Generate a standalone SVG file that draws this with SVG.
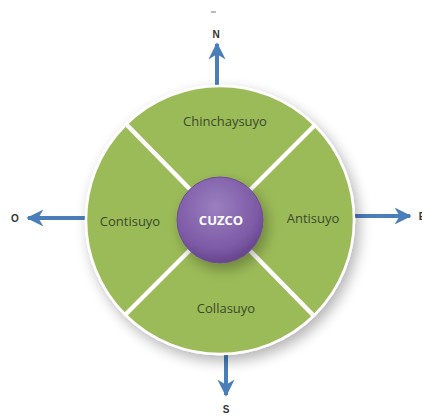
<svg xmlns="http://www.w3.org/2000/svg" width="422" height="418" viewBox="0 0 422 418">
  <defs>
    <filter id="shadow" x="-20%" y="-20%" width="150%" height="150%">
      <feGaussianBlur in="SourceAlpha" stdDeviation="7"/>
      <feOffset dx="4" dy="6" result="b"/>
      <feComponentTransfer><feFuncA type="linear" slope="0.3"/></feComponentTransfer>
      <feMerge><feMergeNode/><feMergeNode in="SourceGraphic"/></feMerge>
    </filter>
    <radialGradient id="purple" cx="0.45" cy="0.35" r="0.7">
      <stop offset="0" stop-color="#9a7fbf"/>
      <stop offset="0.7" stop-color="#7d5aa6"/>
      <stop offset="1" stop-color="#5f3f85"/>
    </radialGradient>
    <marker id="head" viewBox="0 0 10 10" refX="9" refY="5" markerWidth="4.3" markerHeight="4.3" markerUnits="strokeWidth" orient="auto">
      <path d="M0,0 L10,5 L0,10 L3,5 Z" fill="#4a7ebb"/>
    </marker>
    <style>
      .lbl { font-family: "Open Sans", "Noto Sans", sans-serif; font-size: 13px; fill: #3b4a2c; text-anchor: middle; }
      .dir { font-family: "Liberation Sans", sans-serif; font-size: 10px; font-weight: bold; fill: #333; text-anchor: middle; }
      .arrow { stroke: #4a7ebb; stroke-width: 4; fill: none; marker-end: url(#head); }
      .divider { stroke: #ffffff; stroke-width: 4.5; }
    </style>
  </defs>

  <g id="connectors">
    <line class="arrow" x1="217" y1="88" x2="217" y2="44"/>
    <line class="arrow" x1="87" y1="218" x2="28" y2="218"/>
    <line class="arrow" x1="353" y1="216" x2="410" y2="216"/>
    <line class="arrow" x1="226" y1="352" x2="226" y2="395"/>
  </g>

  <g id="wheel">
    <circle cx="220" cy="220" r="134" fill="#9bbb59" stroke="#ffffff" stroke-width="2.5" filter="url(#shadow)"/>
    <line class="divider" x1="126" y1="124" x2="314" y2="316"/>
    <line class="divider" x1="315" y1="125" x2="125" y2="315"/>
  </g>

  <g id="chinchaysuyo"><text class="lbl" x="225" y="126">Chinchaysuyo</text></g>
  <g id="contisuyo"><text class="lbl" x="130" y="226">Contisuyo</text></g>
  <g id="antisuyo"><text class="lbl" x="313" y="223">Antisuyo</text></g>
  <g id="collasuyo"><text class="lbl" x="226" y="313">Collasuyo</text></g>

  <g id="cuzco">
    <circle cx="220" cy="220" r="43" fill="url(#purple)" stroke="#6d4c94" stroke-width="1" filter="url(#shadow)"/>
    <text x="221" y="225" font-family="Open Sans, Noto Sans, sans-serif" font-size="13" font-weight="bold" fill="#ffffff" text-anchor="middle">CUZCO</text>
  </g>

  <g id="labels">
    <line x1="211" y1="12" x2="216" y2="12" stroke="#777" stroke-width="1"/>
    <text class="dir" x="216" y="38">N</text>
    <text class="dir" x="15" y="222">O</text>
    <text class="dir" x="422" y="220">E</text>
    <text class="dir" x="226" y="413">S</text>
  </g>
</svg>
